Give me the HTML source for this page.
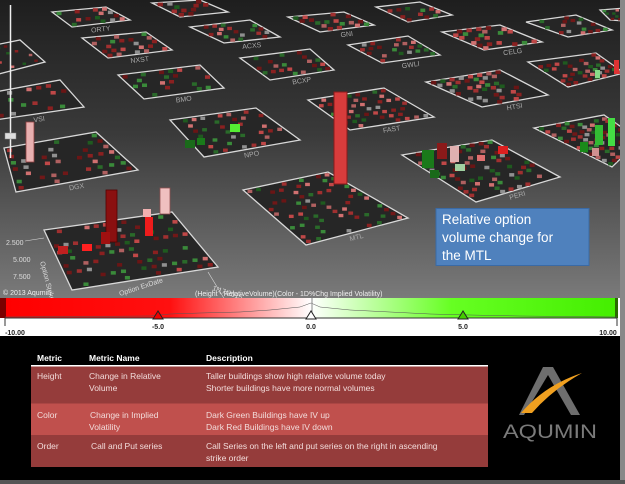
<!DOCTYPE html>
<html><head><meta charset="utf-8"><style>
body{margin:0;width:625px;height:484px;overflow:hidden;background:#000;font-family:"Liberation Sans",sans-serif}
</style></head><body>
<svg id="s" width="625" height="484" viewBox="0 0 625 484" xmlns="http://www.w3.org/2000/svg" style="position:absolute;left:0;top:0">
<defs>
<linearGradient id="bg" x1="0" y1="0" x2="0" y2="1"><stop offset="0" stop-color="#1e1e1e"/><stop offset="0.45" stop-color="#3a3a3a"/><stop offset="1" stop-color="#7a7a7a"/></linearGradient>
<linearGradient id="cb" x1="0" y1="0" x2="1" y2="0"><stop offset="0" stop-color="#ff0000"/><stop offset="0.27" stop-color="#ff1010"/><stop offset="0.5" stop-color="#ffffff"/><stop offset="0.73" stop-color="#66ff22"/><stop offset="1" stop-color="#44ee00"/></linearGradient>
</defs>
<rect x="0" y="0" width="625" height="298" fill="url(#bg)"/>
<g id="plats" fill="#262626" stroke="#d8d8d8" stroke-width="1.3"></g>
<g id="cells"></g>
<g id="labs" fill="#aaa" font-size="7" text-anchor="middle"></g>
<g id="extra">
<rect x="58" y="246" width="10" height="8" fill="#c02020"/><rect x="82" y="244" width="10" height="7" fill="#ff2020"/>
<rect x="185" y="140" width="10" height="8" fill="#1a6a1a"/><rect x="197" y="138" width="8" height="7" fill="#1a7a1a"/>
<rect x="230" y="124" width="10" height="8" fill="#55ee33"/>
<rect x="422" y="150" width="12" height="18" fill="#1a7a1a"/><rect x="437" y="143" width="10" height="16" fill="#8a1a1a"/>
<rect x="450" y="146" width="9" height="16" fill="#e0b0b0"/><rect x="455" y="164" width="10" height="7" fill="#a0d0a0"/>
<rect x="477" y="155" width="8" height="6" fill="#e07070"/><rect x="498" y="146" width="10" height="8" fill="#dd2020"/>
<rect x="430" y="170" width="9" height="8" fill="#1a6a1a"/>
<rect x="595" y="125" width="8" height="20" fill="#33bb33"/><rect x="608" y="118" width="7" height="28" fill="#44dd44"/>
<rect x="580" y="142" width="8" height="10" fill="#1a8a1a"/><rect x="592" y="148" width="7" height="8" fill="#d09090"/>
<rect x="595" y="70" width="5" height="8" fill="#88dd88"/><rect x="614" y="60" width="5" height="14" fill="#dd3333"/>
</g>
<rect x="334" y="92" width="13" height="92" fill="#d83c3c" stroke="#8a1a1a" stroke-width="1"/>
<rect x="26" y="122" width="8" height="40" fill="#e8b0b0" stroke="#904040" stroke-width="0.8"/>
<rect x="106" y="190" width="11" height="52" fill="#8a1010" stroke="#500" stroke-width="0.8"/>
<rect x="101" y="232" width="9" height="12" fill="#a01010"/>
<rect x="145" y="217" width="8" height="19" fill="#ee1c1c"/>
<rect x="143" y="209" width="8" height="8" fill="#f0b0b0"/>
<rect x="160" y="188" width="10" height="26" fill="#f0c0c0" stroke="#905050" stroke-width="0.8"/>
<line x1="10.5" y1="5" x2="10.5" y2="158" stroke="#eee" stroke-width="1.5"/>
<rect x="5" y="133" width="11" height="6" fill="#ddd" stroke="#888" stroke-width="0.5"/>
<g fill="#ddd" font-size="7">
<text x="6" y="245">2.500</text><text x="13" y="262">5.000</text><text x="13" y="279">7.500</text>
<line x1="25" y1="241" x2="44" y2="238" stroke="#ddd" stroke-width="0.6"/>
<text x="40" y="262" transform="rotate(75 40 262)">Option Strike</text>
<text x="120" y="296" transform="rotate(-18 120 296)">Option ExDate</text>
<text x="212" y="290" transform="rotate(18 212 290)">1/17/2015</text>
<line x1="208" y1="272" x2="225" y2="300" stroke="#ddd" stroke-width="0.6"/>
</g>
<rect x="436" y="208.5" width="153" height="57" fill="#4f81bd" stroke="#3a6aa5" stroke-width="1"/>
<g fill="#fff" font-size="13.5"><text x="442" y="224">Relative option</text><text x="442" y="242">volume change for</text><text x="442" y="260">the MTL</text></g>
<text x="3" y="295" fill="#eee" font-size="7">© 2013 Aqumin</text>
<text x="195" y="296" fill="#eee" font-size="7">(Height - RelativeVolume)(Color - 1D%Chg Implied Volatility)</text>
<rect x="0" y="298" width="620" height="38" fill="#fff"/>
<rect x="5" y="298" width="612" height="20" fill="url(#cb)"/>
<rect x="0" y="298" width="6" height="20" fill="#7a0000"/>
<rect x="615" y="298" width="3" height="20" fill="#2a6a00"/>
<path d="M5,317 L150,316 L170,314 L200,313 L240,312 L270,310 L300,307 L311,303 L320,307 L350,310 L390,312 L430,314 L470,315 L520,316 L617,317" stroke="#555" stroke-width="0.5" fill="none"/>
<line x1="5" y1="318" x2="617" y2="318" stroke="#333" stroke-width="1"/>
<line x1="312" y1="298" x2="312" y2="318" stroke="#888" stroke-width="1"/>
<polygon points="158,311 153,319 163,319" fill="#e00" stroke="#222" stroke-width="1"/>
<polygon points="311,311 306,319 316,319" fill="#fff" stroke="#222" stroke-width="1"/>
<polygon points="463,311 458,319 468,319" fill="#4c0" stroke="#222" stroke-width="1"/>
<line x1="5" y1="318" x2="5" y2="326" stroke="#333"/><line x1="617" y1="318" x2="617" y2="326" stroke="#333"/>
<g font-size="7" font-weight="bold" fill="#222" text-anchor="middle">
<text x="158" y="329">-5.0</text><text x="311" y="329">0.0</text><text x="463" y="329">5.0</text>
<text x="15" y="335">-10.00</text><text x="608" y="335">10.00</text>
</g>
<rect x="620" y="0" width="5" height="484" fill="#888"/>
<rect x="0" y="480" width="625" height="4" fill="#555"/>
<g font-size="8.5" font-weight="bold" fill="#fff">
<text x="37" y="361">Metric</text><text x="89" y="361">Metric Name</text><text x="206" y="361">Description</text>
</g>
<rect x="31" y="365" width="457" height="1.5" fill="#fff"/>
<rect x="31" y="366.5" width="457" height="37" fill="#953c3b"/>
<rect x="31" y="403.5" width="457" height="31.5" fill="#c0504d"/>
<rect x="31" y="435" width="457" height="32" fill="#953c3b"/>
<g font-size="8.5" fill="#f2dcdb">
<text x="37" y="379">Height</text><text x="89" y="379">Change in Relative</text><text x="89" y="391">Volume</text>
<text x="206" y="379">Taller buildings show high relative volume today</text><text x="206" y="391">Shorter buildings  have more normal volumes</text>
<text x="37" y="418">Color</text><text x="90" y="418">Change in Implied</text><text x="89" y="430">Volatility</text>
<text x="206" y="418">Dark Green Buildings have IV up</text><text x="206" y="430">Dark Red Buildings  have IV down</text>
<text x="37" y="449">Order</text><text x="91" y="449">Call and Put series</text>
<text x="206" y="449">Call Series on the left and put series on the right in ascending</text><text x="206" y="461">strike order</text>
</g>
<polygon points="543,367 553,367 580,415 571,415 548,375 524,415 519,415" fill="#6e6e6e"/>
<path d="M521,413 Q545,385 582,373 Q552,390 532,413 Z" fill="#f0a020"/>
<text x="550" y="438" font-size="19" fill="#7a7a7a" text-anchor="middle" textLength="94" lengthAdjust="spacingAndGlyphs">AQUMIN</text>
</svg>
<script>
var P=[
["MTL",[243,190],[328,172],[408,218],[306,245],1],
["PERI",[402,155],[492,140],[560,177],[476,202],1],
["NPO",[170,120],[256,108],[300,140],[204,157],1],
["DGX",[4,148],[96,132],[138,170],[16,192],1],
["",[44,230],[172,212],[218,267],[72,290],1],
["FAST",[308,100],[384,88],[434,117],[350,130],1],
["HTSI",[426,82],[500,70],[548,95],[482,107],1],
["",[534,128],[604,115],[640,140],[612,167],1],
["VSI",[-5,92],[60,80],[84,107],[-5,120],1],
["BMO",[118,75],[200,65],[224,88],[144,99],1],
["BCXP",[240,58],[310,49],[334,70],[270,80],1],
["GWLI",[348,45],[408,36],[440,55],[382,63],1],
["",[528,62],[596,53],[624,73],[568,87],1],
["NXST",[82,38],[146,32],[172,50],[108,58],1],
["ACXS",[190,27],[250,20],[280,37],[224,43],1],
["GNI",[288,17],[344,12],[374,25],[320,32],1],
["CELG",[442,32],[500,25],[542,42],[484,50],1],
["ORTY",[52,12],[106,7],[130,20],[72,27],1],
["",[152,3],[200,0],[228,12],[180,17],1],
["",[376,7],[420,2],[452,15],[408,22],1],
["",[526,22],[576,15],[612,30],[568,37],1],
["",[-5,45],[20,40],[45,62],[-5,75],1],
["",[600,10],[625,8],[640,22],[610,20],1]];
var ns="http://www.w3.org/2000/svg",g=document.getElementById("plats"),c=document.getElementById("cells"),l=document.getElementById("labs");
var seed=7;function r(){seed=(seed*9301+49297)%233280;return seed/233280;}
var cols=["#8a2020","#a03030","#c04848","#6a1515","#2a6a2a","#1f5a1f","#b06060","#3a8a3a","#909090","#d07070","#701818"];
P.forEach(function(p){var a=p[1],b=p[2],d=p[3],e=p[4];
var pg=document.createElementNS(ns,"polygon");pg.setAttribute("points",[a,b,d,e].map(function(q){return q.join(",")}).join(" "));g.appendChild(pg);
var w=Math.hypot(b[0]-a[0],b[1]-a[1]);var n=Math.max(4,Math.round(w/9)),m=Math.max(4,Math.round(Math.hypot(e[0]-a[0],e[1]-a[1])/7));
var cs=Math.max(2,w/n*0.55);
for(var i=0;i<n;i++)for(var j=0;j<m;j++){if(r()<0.45)continue;var u=(i+0.5)/n,v=(j+0.5)/m;
var x=(1-u)*(1-v)*a[0]+u*(1-v)*b[0]+u*v*d[0]+(1-u)*v*e[0],y=(1-u)*(1-v)*a[1]+u*(1-v)*b[1]+u*v*d[1]+(1-u)*v*e[1];
var rc=document.createElementNS(ns,"rect");rc.setAttribute("x",x-cs/2);rc.setAttribute("y",y-cs*0.35);rc.setAttribute("width",cs);rc.setAttribute("height",cs*0.7);rc.setAttribute("fill",cols[Math.floor(r()*cols.length)]);c.appendChild(rc);}
if(p[0]){var mx=(d[0]+e[0])/2,my=(d[1]+e[1])/2+8,ang=Math.atan2(d[1]-e[1],d[0]-e[0])*180/Math.PI;
var t=document.createElementNS(ns,"text");t.setAttribute("x",mx);t.setAttribute("y",my);t.setAttribute("transform","rotate("+ang+" "+mx+" "+my+")");t.textContent=p[0];l.appendChild(t);}
});
</script>
</body></html>
